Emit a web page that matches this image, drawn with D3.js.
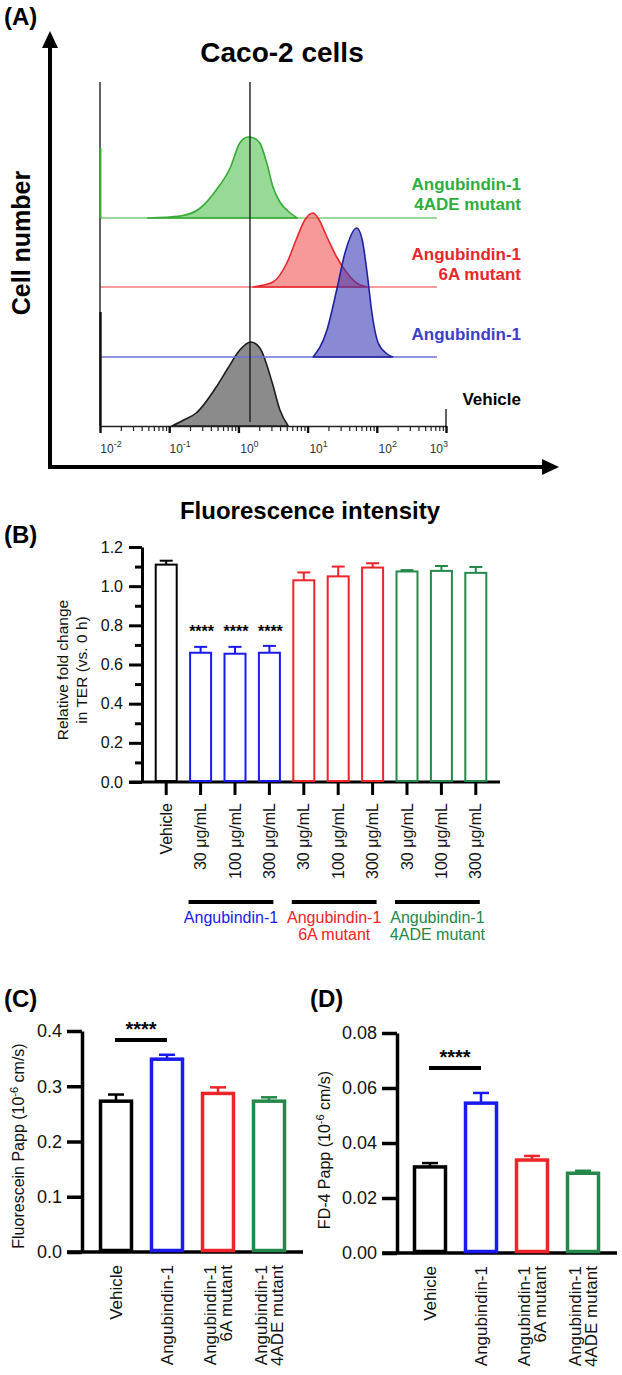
<!DOCTYPE html>
<html>
<head>
<meta charset="utf-8">
<script src="https://cdn.jsdelivr.net/npm/d3@7/dist/d3.min.js"></script>
<style>
  body { margin: 0; background: #fff; }
  text { font-family: "Liberation Sans", Arial, Helvetica, sans-serif; }
</style>
</head>
<body>
<div id="vis"></div>
<script>

// ---------- panel A : flow histograms, [log10 intensity, cell count] ----------
var vehicleHist = [[-0.96,0],[-0.79,6],[-0.61,13],[-0.32,39],[-0.15,58],[0.02,76],[0.18,84],[0.31,78],[0.49,43],[0.6,16],[0.72,0]];
var wtHist      = [[1.08,0],[1.28,27],[1.42,67],[1.54,104],[1.71,129],[1.79,117],[1.86,84],[1.93,44],[2.02,14],[2.15,3],[2.23,0]];
var m6aHist     = [[0.21,0],[0.5,5],[0.7,24],[0.85,50],[0.96,67],[1.08,74],[1.15,69],[1.28,50],[1.42,30],[1.57,14],[1.71,4],[1.86,0]];
var m4adeHist   = [[-1.31,0],[-0.84,2],[-0.55,10],[-0.32,28],[-0.12,50],[0.02,75],[0.14,81],[0.22,80],[0.31,75],[0.41,55],[0.5,31],[0.6,16],[0.75,5],[0.85,0]];
var vehicleSpike = 114;   // events piled at the lower limit
var m4adeSpike   = 70;
var decades      = [0.01, 0.1, 1, 10, 100, 1000];
var decadeExp    = ["-2", "-1", "0", "1", "2", "3"];
var gateLines    = [0.01, 1.47];

// ---------- panel B : TER ----------
var terCats   = ["Vehicle","30 μg/mL","100 μg/mL","300 μg/mL","30 μg/mL ","100 μg/mL ","300 μg/mL ","30 μg/mL  ","100 μg/mL  ","300 μg/mL  "];
var terGroup  = ["veh","wt","wt","wt","a6","a6","a6","ade","ade","ade"];
var terMean   = [1.11, 0.66, 0.655, 0.66, 1.03, 1.05, 1.095, 1.075, 1.078, 1.068];
var terSem    = [0.02, 0.03, 0.035, 0.035, 0.04, 0.05, 0.022, 0.007, 0.025, 0.03];
var terStars  = ["", "****", "****", "****", "", "", "", "", "", ""];
var terTicks  = [0, 0.2, 0.4, 0.6, 0.8, 1.0, 1.2];
var terMinor  = [0.1, 0.3, 0.5, 0.7, 0.9, 1.1];
var groupKeys  = ["wt", "a6", "ade"];
var groupNames = [["Angubindin-1"], ["Angubindin-1", "6A mutant"], ["Angubindin-1", "4ADE mutant"]];

// ---------- panels C, D : permeability ----------
var pappCats   = ["veh", "wt", "a6", "ade"];
var pappNames  = [["Vehicle"], ["Angubindin-1"], ["Angubindin-1", "6A mutant"], ["Angubindin-1", "4ADE mutant"]];
var fluorMean  = [0.273, 0.349, 0.287, 0.273];
var fluorSem   = [0.012, 0.008, 0.011, 0.007];
var fluorTicks = [0, 0.1, 0.2, 0.3, 0.4];
var fd4Mean    = [0.0313, 0.0545, 0.0338, 0.029];
var fd4Sem     = [0.0014, 0.0037, 0.0015, 0.0009];
var fd4Ticks   = [0, 0.02, 0.04, 0.06, 0.08];

var colour = { veh: "#000000", wt: "#1a1aee", a6: "#ee2428", ade: "#24884a" };

var width = 622, height = 1375;
var font = '"Liberation Sans", Arial, sans-serif';

var svg = d3.select("#vis").append("svg")
  .attr("width", width)
  .attr("height", height);

function panelLabel(t, x, y) {
  svg.append("text").attr("x", x).attr("y", y)
    .attr("font-size", 24).attr("font-weight", "bold").text(t);
}

// ============================ (A) ============================
panelLabel("(A)", 4, 25);

svg.append("text").attr("x", 282).attr("y", 62)
  .attr("text-anchor", "middle").attr("font-size", 28).attr("font-weight", "bold")
  .text("Caco-2 cells");

// frame arrows
svg.append("line").attr("x1", 50).attr("x2", 50).attr("y1", 469).attr("y2", 44)
  .attr("stroke", "#000").attr("stroke-width", 4);
svg.append("path").attr("d", "M50,31L42,48L58,48Z").attr("fill", "#000");
svg.append("line").attr("x1", 48).attr("x2", 546).attr("y1", 467).attr("y2", 467)
  .attr("stroke", "#000").attr("stroke-width", 4);
svg.append("path").attr("d", "M559,467L542,459L542,475Z").attr("fill", "#000");

svg.append("text").attr("transform", "translate(30,243) rotate(-90)")
  .attr("text-anchor", "middle").attr("font-size", 25).attr("font-weight", "bold")
  .text("Cell number");
svg.append("text").attr("x", 310).attr("y", 519)
  .attr("text-anchor", "middle").attr("font-size", 24).attr("font-weight", "bold")
  .text("Fluorescence intensity");

var xA = d3.scaleLog().domain([0.01, 1000]).range([100, 446]);
var yA = d3.scaleLinear().domain([0, 344]).range([426, 82]);
var baseEnd = 740;

var rows = [
  { data: vehicleHist, off: 0,   fill: "#6a6a6a", fop: 0.78, stroke: "#1e1e1e", base: null },
  { data: m4adeHist,   off: 208, fill: "#52c052", fop: 0.6,  stroke: "#36ab36", base: "#7ccd7c" },
  { data: m6aHist,     off: 139, fill: "#f25050", fop: 0.58, stroke: "#e8282e", base: "#ef7a7d" },
  { data: wtHist,      off: 69,  fill: "#3535b5", fop: 0.58, stroke: "#22229c", base: "#6f6fd6" }
];

rows.forEach(function(r) {
  if (r.base) {
    svg.append("line")
      .attr("x1", xA(0.01)).attr("x2", xA(baseEnd))
      .attr("y1", yA(r.off)).attr("y2", yA(r.off))
      .attr("stroke", r.base).attr("stroke-width", 1.3);
  }
  var area = d3.area()
    .curve(d3.curveMonotoneX)
    .x(function(d) { return xA(Math.pow(10, d[0])); })
    .y0(yA(r.off))
    .y1(function(d) { return yA(r.off + d[1]); });
  svg.append("path").datum(r.data)
    .attr("d", area)
    .attr("fill", r.fill).attr("fill-opacity", r.fop)
    .attr("stroke", r.stroke).attr("stroke-width", 1.6).attr("stroke-linejoin", "round");
});

// gates
gateLines.forEach(function(v, i) {
  svg.append("line")
    .attr("x1", xA(v)).attr("x2", xA(v))
    .attr("y1", yA(344)).attr("y2", i ? yA(4) : yA(0))
    .attr("stroke", "#111").attr("stroke-width", 1.3);
});
// spikes at the lower limit
svg.append("line").attr("x1", xA(0.01) + 0.5).attr("x2", xA(0.01) + 0.5)
  .attr("y1", yA(0)).attr("y2", yA(vehicleSpike))
  .attr("stroke", "#111").attr("stroke-width", 2.4);
svg.append("line").attr("x1", xA(0.01) + 0.5).attr("x2", xA(0.01) + 0.5)
  .attr("y1", yA(208)).attr("y2", yA(208 + m4adeSpike))
  .attr("stroke", "#3bb33b").attr("stroke-width", 2);

// log axis
var axA = svg.append("g").attr("transform", "translate(0," + yA(0) + ")");
axA.call(d3.axisBottom(xA).tickValues(xA.ticks()).tickSize(5).tickSizeOuter(0).tickFormat(""));
axA.selectAll("line").attr("stroke", "#222").attr("stroke-width", 1.2);
axA.select(".domain").attr("stroke", "#222").attr("stroke-width", 1.4);
var axA2 = svg.append("g").attr("transform", "translate(0," + yA(0) + ")");
axA2.call(d3.axisBottom(xA).tickValues(decades).tickSize(7).tickFormat(""));
axA2.select(".domain").remove();
axA2.selectAll("line").attr("stroke", "#111").attr("stroke-width", 2.4);
svg.append("line").attr("x1", xA(1000)).attr("x2", xA(1000))
  .attr("y1", yA(0)).attr("y2", yA(17)).attr("stroke", "#222").attr("stroke-width", 1.4);

decades.forEach(function(d, i) {
  var last = i === decades.length - 1;
  var t = svg.append("text")
    .attr("x", last ? xA(d) + 2 : xA(d) + 11)
    .attr("y", 453)
    .attr("text-anchor", last ? "end" : "middle")
    .attr("fill", "#333").attr("font-size", 12);
  t.append("tspan").text("10");
  t.append("tspan").attr("dy", -6).attr("font-size", 9).text(decadeExp[i]);
});

// histogram labels
function histLabel(lines, color, y, sz) {
  var t = svg.append("text").attr("text-anchor", "end")
    .attr("font-size", sz || 17).attr("font-weight", "bold").attr("fill", color);
  lines.forEach(function(l, i) {
    t.append("tspan").attr("x", 521).attr("y", y + i * 20).text(l);
  });
}
histLabel(["Angubindin-1", "4ADE mutant"], "#2eae3e", 190);
histLabel(["Angubindin-1", "6A mutant"], "#e8262b", 260);
histLabel(["Angubindin-1"], "#3d3dc8", 340);
histLabel(["Vehicle"], "#000", 405);

// ============================ (B) ============================
panelLabel("(B)", 4, 543);

var xB = d3.scalePoint().domain(terCats).range([149, 493]).padding(0.5);
var yB = d3.scaleLinear().domain([0, 1.2]).range([782, 547]);
var bwB = 21;

var gB = svg.append("g");
var axBmin = gB.append("g").attr("transform", "translate(142,0)")
  .call(d3.axisLeft(yB).tickValues(terMinor).tickSize(7).tickSizeOuter(0).tickFormat(""));
axBmin.select(".domain").remove();
var axB = gB.append("g").attr("transform", "translate(142,0)")
  .call(d3.axisLeft(yB).tickValues(terTicks).tickSize(13).tickSizeOuter(0).tickPadding(6).tickFormat(d3.format(".1f")));
gB.selectAll("line").attr("stroke", "#000").attr("stroke-width", 3);
axB.select(".domain").attr("stroke-width", 3);
axB.selectAll("text").attr("font-size", 16).attr("font-family", font).attr("fill", "#111");

// x axis
gB.append("line").attr("x1", 129).attr("x2", 500).attr("y1", yB(0)).attr("y2", yB(0))
  .attr("stroke", "#000").attr("stroke-width", 3);
gB.selectAll(".xt").data(terCats).enter().append("line")
  .attr("x1", function(d) { return xB(d); }).attr("x2", function(d) { return xB(d); })
  .attr("y1", yB(0)).attr("y2", yB(0) + 13)
  .attr("stroke", "#000").attr("stroke-width", 3);
gB.selectAll(".xl").data(terCats).enter().append("text")
  .attr("transform", function(d) { return "translate(" + xB(d) + "," + (yB(0) + 21) + ") rotate(-90)"; })
  .attr("text-anchor", "end").attr("dy", "0.35em")
  .attr("font-size", 16).attr("fill", "#111")
  .text(function(d) { return d.trim(); });

terCats.forEach(function(c, i) {
  var cx = xB(c), col = colour[terGroup[i]];
  gB.append("line").attr("x1", cx).attr("x2", cx)
    .attr("y1", yB(terMean[i])).attr("y2", yB(terMean[i] + terSem[i]))
    .attr("stroke", col).attr("stroke-width", 2);
  gB.append("line").attr("x1", cx - 6.5).attr("x2", cx + 6.5)
    .attr("y1", yB(terMean[i] + terSem[i])).attr("y2", yB(terMean[i] + terSem[i]))
    .attr("stroke", col).attr("stroke-width", 2);
  gB.append("rect")
    .attr("x", cx - bwB / 2).attr("y", yB(terMean[i]))
    .attr("width", bwB).attr("height", yB(0) - yB(terMean[i]) - 1)
    .attr("fill", "#fff").attr("stroke", col).attr("stroke-width", 2);
  if (terStars[i]) {
    gB.append("text").attr("x", cx + 1).attr("y", 637)
      .attr("text-anchor", "middle").attr("font-size", 16).attr("font-weight", "bold")
      .text(terStars[i]);
  }
});

// group bars
groupKeys.forEach(function(k, gi) {
  var idx = terGroup.map(function(g, i) { return g === k ? i : -1; }).filter(function(i) { return i >= 0; });
  var x0 = xB(terCats[idx[0]]) - 12, x1 = xB(terCats[idx[idx.length - 1]]) + 4;
  gB.append("line").attr("x1", x0).attr("x2", x1).attr("y1", 902).attr("y2", 902)
    .attr("stroke", "#000").attr("stroke-width", 4);
  var t = gB.append("text").attr("text-anchor", "middle").attr("font-size", 16).attr("fill", colour[k]);
  groupNames[gi].forEach(function(l, li) {
    t.append("tspan").attr("x", (x0 + x1) / 2).attr("y", 923 + li * 17).text(l);
  });
});

var yl = gB.append("text").attr("text-anchor", "middle").attr("font-size", 15.5).attr("fill", "#111")
  .attr("transform", "translate(0,670) rotate(-90)");
yl.append("tspan").attr("x", 0).attr("y", 68).text("Relative fold change");
yl.append("tspan").attr("x", 0).attr("y", 87).text("in TER (vs. 0 h)");

// ============================ (C) & (D) ============================
function pappPanel(o) {
  var g = svg.append("g");
  var x = d3.scalePoint().domain(pappCats).range([o.left, o.left + 204]).padding(0.5);
  var y = d3.scaleLinear().domain(o.domain).range([o.bottom, o.top]);
  var ax = g.append("g").attr("transform", "translate(" + o.axisX + ",0)")
    .call(d3.axisLeft(y).tickValues(o.ticks).tickSize(15).tickSizeOuter(0).tickPadding(5).tickFormat(d3.format(o.fmt)));
  ax.selectAll("line").attr("stroke-width", 3.5);
  ax.select(".domain").attr("stroke-width", 3.5);
  ax.selectAll("text").attr("font-size", 18).attr("font-family", font).attr("fill", "#111");
  g.append("line").attr("x1", o.axisX - 15).attr("x2", o.right).attr("y1", y(0)).attr("y2", y(0))
    .attr("stroke", "#000").attr("stroke-width", 3.5);

  pappCats.forEach(function(c, i) {
    var cx = x(c), col = colour[c], m = o.mean[i], e = o.sem[i];
    g.append("line").attr("x1", cx).attr("x2", cx).attr("y1", y(m)).attr("y2", y(m + e))
      .attr("stroke", col).attr("stroke-width", 2.5);
    g.append("line").attr("x1", cx - 8).attr("x2", cx + 8).attr("y1", y(m + e)).attr("y2", y(m + e))
      .attr("stroke", col).attr("stroke-width", 2.5);
    g.append("rect").attr("x", cx - 15.5).attr("y", y(m))
      .attr("width", 31).attr("height", y(0) - y(m) - 1.5)
      .attr("fill", "#fff").attr("stroke", col).attr("stroke-width", 3.5);
    var t = g.append("text").attr("text-anchor", "end").attr("font-size", 17).attr("fill", "#111")
      .attr("transform", "translate(" + cx + "," + (y(0) + 13) + ") rotate(-90)");
    var n = pappNames[i].length;
    pappNames[i].forEach(function(l, li) {
      t.append("tspan").attr("x", 0).attr("y", (li - (n - 1) / 2) * 16.5).attr("dy", "0.35em").text(l);
    });
  });

  // significance bracket
  var sx0 = x(pappCats[0]) - 1, sx1 = x(pappCats[1]);
  g.append("line").attr("x1", sx0).attr("x2", sx1).attr("y1", o.sigY).attr("y2", o.sigY)
    .attr("stroke", "#000").attr("stroke-width", 4);
  g.append("text").attr("x", (sx0 + sx1) / 2).attr("y", o.sigY - 4)
    .attr("text-anchor", "middle").attr("font-size", 20).attr("font-weight", "bold").text("****");

  var t = g.append("text").attr("text-anchor", "middle").attr("font-size", 16).attr("fill", "#111")
    .attr("transform", "translate(" + o.labX + "," + o.labY + ") rotate(-90)");
  t.append("tspan").text(o.label + " (10");
  t.append("tspan").attr("dy", -6).attr("font-size", 11).text("-6");
  t.append("tspan").attr("dy", 6).text(" cm/s)");
}

panelLabel("(C)", 4, 1007);
pappPanel({ left: 90.5, right: 303, axisX: 82, top: 1031, bottom: 1252, domain: [0, 0.4],
  ticks: fluorTicks, fmt: ".1f", mean: fluorMean, sem: fluorSem, sigY: 1040,
  label: "Fluorescein Papp", labX: 24, labY: 1146 });

panelLabel("(D)", 310, 1007);
pappPanel({ left: 404.5, right: 617, axisX: 397, top: 1033, bottom: 1253, domain: [0, 0.08],
  ticks: fd4Ticks, fmt: ".2f", mean: fd4Mean, sem: fd4Sem, sigY: 1068,
  label: "FD-4 Papp", labX: 330, labY: 1150 });

</script>
</body>
</html>
